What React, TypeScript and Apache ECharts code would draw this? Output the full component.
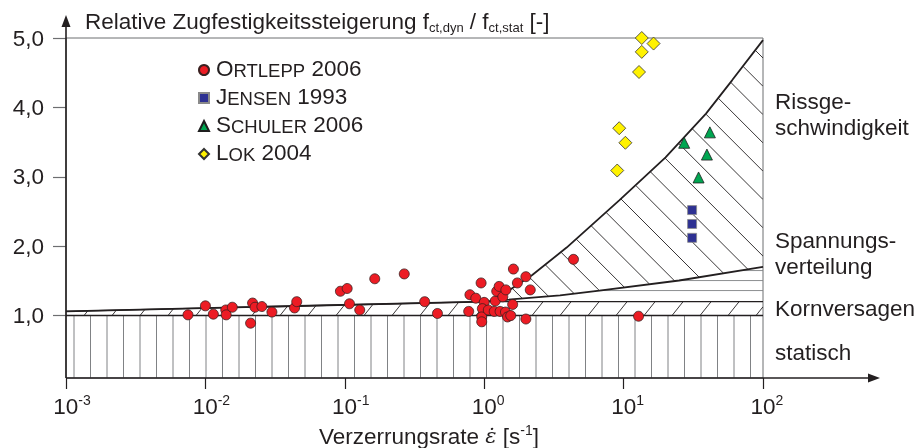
import React, { useEffect, useRef } from "react";
import * as echarts from "echarts";

const FONT = '"Liberation Sans", Arial, Helvetica, sans-serif';
const FS = 22.5;
const INK = "#231f20";
const GREY = "#6d6e71";
const HATCH_GREY = "#808285";

// ---- measured strength increase (strain rate in 1/s, ratio f_ct,dyn / f_ct,stat)
const ortleppRate = [0.0075, 0.01, 0.0114, 0.014, 0.0141, 0.0156, 0.0211, 0.0218, 0.0227, 0.0254, 0.03, 0.0436, 0.0452, 0.093, 0.104, 0.108, 0.128, 0.164, 0.267, 0.374, 0.462, 0.774, 0.79, 0.87, 0.95, 1.0, 0.97, 0.96, 0.96, 1.07, 1.18, 1.2, 1.23, 1.28, 1.3, 1.36, 1.43, 1.42, 1.47, 1.55, 1.6, 1.62, 1.73, 1.99, 2.14, 1.99, 4.37, 12.8];
const ortleppValue = [1.01, 1.14, 1.02, 1.08, 1.01, 1.12, 0.89, 1.18, 1.12, 1.13, 1.05, 1.11, 1.2, 1.35, 1.39, 1.17, 1.08, 1.53, 1.6, 1.2, 1.03, 1.06, 1.3, 1.25, 1.47, 1.19, 1.1, 0.98, 0.91, 1.08, 1.06, 1.21, 1.35, 1.42, 1.06, 1.27, 1.37, 1.05, 0.98, 1.0, 1.16, 1.67, 1.47, 1.56, 1.37, 0.95, 1.81, 0.99];
const jensenRate = [31, 31, 31];
const jensenValue = [2.52, 2.32, 2.12];
const schulerRate = [27.2, 41.6, 39.6, 34.5];
const schulerValue = [3.49, 3.64, 3.32, 2.99];
const lokRate = [13.5, 16.4, 13.5, 12.9, 9.3, 10.3, 9.0];
const lokValue = [5.0, 4.92, 4.8, 4.51, 3.7, 3.49, 3.09];

// ---- mechanism zones
const rateRange = [0.001, 100];
const floorLevel = 0.1;
const staticLevel = 1.0;
const topLevel = 5.0;
const grainRate = [0.001, 1, 100];
const grainValue = [1.06, 1.2, 1.2];
const stressRate = [0.001, 1, 3.5, 6.7, 25, 100];
const stressValue = [1.06, 1.2, 1.29, 1.36, 1.505, 1.7];
const crackRate = [1.1, 1.5, 2.2, 3.9, 9.3, 20, 39, 60, 100];
const crackValue = [1.21, 1.36, 1.58, 1.98, 2.66, 3.28, 3.91, 4.39, 4.97];

const zoneNames = ["Rissge-\nschwindigkeit", "Spannungs-\nverteilung", "Kornversagen", "statisch"];
const zoneLevels = [3.9, 1.89, 1.1, 0.47];

const yTicks = [1, 2, 3, 4, 5];

const seriesNames = ["Ortlepp 2006", "Jensen 1993", "Schuler 2006", "Lok 2004"];
const legendText: Record<string, string> = {
  "Ortlepp 2006": "{c|O}{s|RTLEPP}{c| 2006}",
  "Jensen 1993": "{c|J}{s|ENSEN}{c| 1993}",
  "Schuler 2006": "{c|S}{s|CHULER}{c| 2006}",
  "Lok 2004": "{c|L}{s|OK}{c| 2004}",
};

type Pt = number[];
const pairs = (xs: number[], ys: number[]) => xs.map((x, i) => [x, ys[i]]);

const pxCurve = (api: any, rates: number[], vals: number[]): Pt[] =>
  rates.map((r, i) => api.coord([r, vals[i]]) as number[]);

const interp = (pts: Pt[], x: number) => {
  if (x <= pts[0][0]) return pts[0][1];
  for (let i = 1; i < pts.length; i++) {
    if (x <= pts[i][0]) {
      const [x0, y0] = pts[i - 1];
      const [x1, y1] = pts[i];
      return y0 + ((y1 - y0) * (x - x0)) / (x1 - x0);
    }
  }
  return pts[pts.length - 1][1];
};

const seg = (x1: number, y1: number, x2: number, y2: number, stroke: string, lineWidth = 1) => ({
  type: "line",
  shape: { x1, y1, x2, y2 },
  style: { stroke, lineWidth },
});

// vertical hatching below the static level
const drawStatic = (api: any) => {
  const [xl, yb] = api.coord([rateRange[0], floorLevel]);
  const [xr, yt] = api.coord([rateRange[1], staticLevel]);
  const out: any[] = [];
  for (let x = xl + 8; x < xr - 1; x += 16.5) out.push(seg(x, yt, x, yb, HATCH_GREY));
  return out;
};

// short diagonal strokes in the grain failure band
const drawGrain = (api: any) => {
  const top = pxCurve(api, grainRate, grainValue);
  const [xl, yb] = api.coord([rateRange[0], staticLevel]);
  const xr = api.coord([rateRange[1], staticLevel])[0];
  const out: any[] = [];
  for (let x0 = xl + 18; x0 < xr; x0 += 28) {
    let t = 0;
    while (t < 40) {
      const x = x0 + 0.8 * t;
      const y = yb - t;
      if (y <= interp(top, x) || x >= xr) break;
      t += 0.25;
    }
    out.push(seg(x0, yb, Math.min(x0 + 0.8 * t, xr), yb - t, INK, 0.9));
  }
  return out;
};

// horizontal hatching in the stress distribution band
const drawStress = (api: any) => {
  const lo = pxCurve(api, grainRate, grainValue);
  const hi = pxCurve(api, stressRate, stressValue);
  const [xl, y1] = api.coord([rateRange[0], staticLevel]);
  const xr = api.coord([rateRange[1], staticLevel])[0];
  const yMin = Math.min(...hi.map((p) => p[1]));
  const out: any[] = [];
  for (let y = y1 - 25; y > yMin; y -= 10) {
    let a: number | null = null;
    let b = 0;
    for (let x = xl; x <= xr; x += 0.5) {
      if (interp(hi, x) <= y && y <= interp(lo, x)) {
        if (a === null) a = x;
        b = x;
      }
    }
    if (a !== null && b > a) out.push(seg(a, y, b, y, HATCH_GREY, 0.9));
  }
  return out;
};

// back-slash hatching in the crack velocity zone
const drawCrack = (api: any) => {
  const lo = pxCurve(api, stressRate, stressValue);
  const hi = pxCurve(api, crackRate, crackValue);
  const xa = hi[0][0];
  const [xr, yt] = api.coord([rateRange[1], topLevel]);
  const out: any[] = [];
  for (let k = -3; k < 24; k++) {
    const c = yt + 20 + 28.3 * k - xr;
    let a: number | null = null;
    let b = 0;
    for (let x = xa; x <= xr; x += 0.25) {
      const y = x + c;
      if (y >= interp(hi, x) && y <= interp(lo, x)) {
        if (a === null) a = x;
        b = x;
      }
    }
    if (a !== null && b > a) out.push(seg(a, a + c, b, b + c, INK, 0.9));
  }
  return out;
};

const hatch = (name: string, draw: (api: any) => any[]) => ({
  type: "custom",
  name,
  silent: true,
  clip: true,
  z: 1,
  data: [[1, 1]],
  renderItem: (_p: any, api: any) => ({ type: "group", children: draw(api) }),
});

const boundary = (name: string, rates: number[], vals: number[], width: number) => ({
  type: "line",
  name,
  data: pairs(rates, vals),
  symbol: "none",
  silent: true,
  z: 2,
  lineStyle: { color: INK, width },
});

const option: any = {
  animation: false,
  textStyle: { fontFamily: FONT, color: INK },
  grid: {
    left: 66,
    right: 161,
    top: 38,
    bottom: 70,
    show: true,
    borderColor: GREY,
    borderWidth: 1,
    containLabel: false,
    outerBoundsMode: "none",
  },
  legend: {
    data: seriesNames,
    orient: "vertical",
    left: 198,
    top: 57,
    padding: 0,
    itemGap: 5,
    itemWidth: 10,
    itemHeight: 10,
    selectedMode: false,
    formatter: (n: string) => legendText[n],
    textStyle: {
      color: INK,
      padding: [0, 0, 0, 2],
      rich: {
        c: { fontFamily: FONT, fontSize: FS, lineHeight: 20, verticalAlign: "bottom", color: INK },
        s: { fontFamily: FONT, fontSize: 18.5, lineHeight: 20, verticalAlign: "bottom", color: INK },
      },
    },
  },
  xAxis: {
    type: "log",
    logBase: 10,
    min: rateRange[0],
    max: rateRange[1],
    axisLine: { show: false },
    axisTick: { show: true, length: 11, lineStyle: { color: INK, width: 1.2 } },
    minorTick: { show: false },
    splitLine: { show: false },
    axisLabel: {
      margin: 15,
      color: INK,
      formatter: (v: number) => {
        const e = Math.round(Math.log10(v));
        return e < 0 ? `{bn|10}{e|${e}}` : `{bp|10}{e|${e}}`;
      },
      rich: {
        bn: { fontFamily: FONT, fontSize: FS, lineHeight: 26, verticalAlign: "middle", padding: [0, 0, 0, 12], color: INK },
        bp: { fontFamily: FONT, fontSize: FS, lineHeight: 26, verticalAlign: "middle", padding: [0, 0, 0, 8], color: INK },
        e: { fontFamily: FONT, fontSize: 14, lineHeight: 14, verticalAlign: "top", color: INK },
      },
    },
    name: "{m|Verzerrungsrate }{eps|\u03b5\u0307}{m| [s}{e|-1}{m|]}",
    nameLocation: "middle",
    nameGap: 45,
    nameTextStyle: {
      color: INK,
      padding: [0, 0, 0, 29],
      rich: {
        m: { fontFamily: FONT, fontSize: FS, lineHeight: 26, verticalAlign: "middle", color: INK },
        eps: { fontFamily: '"DejaVu Serif", serif', fontStyle: "italic", fontSize: 21, lineHeight: 26, verticalAlign: "middle", color: INK },
        e: { fontFamily: FONT, fontSize: 14, lineHeight: 14, verticalAlign: "top", color: INK },
      },
    },
  },
  yAxis: {
    type: "value",
    min: floorLevel,
    max: topLevel,
    axisLine: { show: false },
    axisTick: { show: true, length: 13, customValues: yTicks, lineStyle: { color: GREY, width: 1.2 } },
    axisLabel: {
      customValues: yTicks,
      margin: 22,
      fontSize: FS,
      fontFamily: FONT,
      color: INK,
      formatter: (v: number) => v.toFixed(1).replace(".", ","),
    },
    splitLine: { show: false },
    name: "{m|Relative Zugfestigkeitssteigerung f}{d|ct,dyn}{m| / f}{d|ct,stat}{m| [-]}",
    nameLocation: "end",
    nameGap: 4,
    nameTextStyle: {
      align: "left",
      verticalAlign: "bottom",
      padding: [0, 0, 0, 19],
      rich: {
        m: { fontFamily: FONT, fontSize: FS, lineHeight: 26, verticalAlign: "middle", color: INK },
        d: { fontFamily: FONT, fontSize: 13, lineHeight: 11, verticalAlign: "bottom", color: INK },
      },
    },
  },
  series: [
    hatch("statisch", drawStatic),
    hatch("Kornversagen", drawGrain),
    hatch("Spannungsverteilung", drawStress),
    hatch("Rissgeschwindigkeit", drawCrack),
    boundary("statische Grenze", rateRange, [staticLevel, staticLevel], 1.6),
    boundary("Grenze Kornversagen", grainRate, grainValue, 1.3),
    boundary("Grenze Spannungsverteilung", stressRate, stressValue, 1.8),
    boundary("Grenze Rissgeschwindigkeit", crackRate, crackValue, 1.8),
    {
      type: "scatter",
      name: seriesNames[0],
      data: pairs(ortleppRate, ortleppValue),
      symbol: "circle",
      symbolSize: 10,
      z: 5,
      itemStyle: { color: "#ec1c24", borderColor: "#3a2020", borderWidth: 0.8, opacity: 1 },
    },
    {
      type: "scatter",
      name: seriesNames[1],
      data: pairs(jensenRate, jensenValue),
      symbol: "rect",
      symbolSize: 9,
      z: 5,
      itemStyle: { color: "#2e3192", borderColor: "#8a8a8a", borderWidth: 0.8, opacity: 1 },
    },
    {
      type: "scatter",
      name: seriesNames[2],
      data: pairs(schulerRate, schulerValue),
      symbol: "triangle",
      symbolSize: 11,
      z: 5,
      itemStyle: { color: "#00a651", borderColor: "#1e1e1e", borderWidth: 0.8, opacity: 1 },
    },
    {
      type: "scatter",
      name: seriesNames[3],
      data: pairs(lokRate, lokValue),
      symbol: "diamond",
      symbolSize: 13,
      z: 5,
      itemStyle: { color: "#fff200", borderColor: "#333333", borderWidth: 0.8, opacity: 1 },
    },
  ],
};

export default function App() {
  const ref = useRef<HTMLDivElement>(null);

  useEffect(() => {
    const chart = echarts.init(ref.current!, null, { renderer: "svg" });
    chart.setOption(option);

    const px = (r: number, v: number) => chart.convertToPixel({ gridIndex: 0 }, [r, v]) as number[];
    const [ox, oy] = px(rateRange[0], floorLevel);
    const [ex, ty] = px(rateRange[1], topLevel);
    const xTip = ex + 117;
    const yTip = ty - 23;

    const labels = zoneNames.map((text, i) => ({
      type: "text",
      x: ex + 12,
      y: px(rateRange[1], zoneLevels[i])[1],
      z: 60,
      style: {
        text,
        fontFamily: FONT,
        fontSize: FS,
        lineHeight: 26,
        fill: INK,
        align: "left",
        verticalAlign: "middle",
      },
    }));

    chart.setOption({
      graphic: [
        { type: "line", z: 50, shape: { x1: ox, y1: oy, x2: xTip - 8, y2: oy }, style: { stroke: INK, lineWidth: 1.6 } },
        {
          type: "polygon",
          z: 50,
          shape: { points: [[xTip - 12, oy - 4.5], [xTip, oy], [xTip - 12, oy + 4.5]] },
          style: { fill: INK },
        },
        { type: "line", z: 50, shape: { x1: ox, y1: oy, x2: ox, y2: yTip + 8 }, style: { stroke: INK, lineWidth: 1.6 } },
        {
          type: "polygon",
          z: 50,
          shape: { points: [[ox - 4.5, yTip + 12], [ox, yTip], [ox + 4.5, yTip + 12]] },
          style: { fill: INK },
        },
        ...labels,
      ],
    });

    return () => chart.dispose();
  }, []);

  return <div ref={ref} style={{ position: "fixed", left: 0, top: 0, width: 924, height: 448 }} />;
}
